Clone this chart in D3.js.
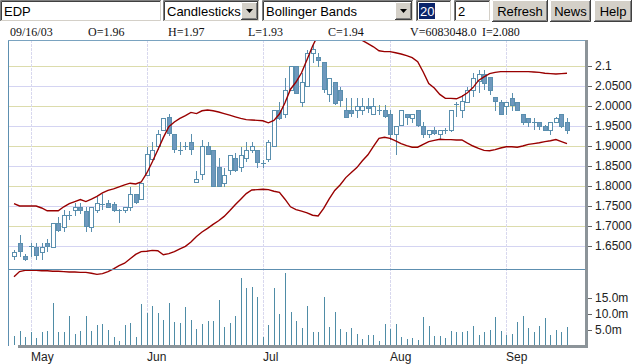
<!DOCTYPE html>
<html>
<head>
<meta charset="utf-8">
<script src="https://cdn.jsdelivr.net/npm/d3@7"></script>
<style>
body { margin: 0; background: #fff; }
</style>
</head>
<body>
<svg id="chart" width="632" height="364"></svg>
<script>
// daily bars 04/28/03 .. 09/16/03
var opens = [1.625,1.657,1.625,1.648,1.647,1.634,1.657,1.647,1.707,1.697,1.727,1.738,1.747,1.737,1.697,1.738,1.753,1.757,1.755,1.739,
  1.738,1.747,1.778,1.767,1.826,1.867,1.898,1.939,1.971,1.929,1.890,1.899,1.909,1.808,1.828,1.898,1.890,1.846,1.807,1.838,
  1.868,1.847,1.868,1.888,1.890,1.857,1.867,1.898,1.988,1.980,2.038,2.100,2.009,2.048,2.132,2.122,2.109,2.029,2.059,2.038,
  1.990,1.990,1.990,1.990,2.000,1.980,1.990,1.990,1.980,1.929,1.951,1.980,1.969,1.990,1.948,1.930,1.940,1.930,1.940,1.940,
  2.003,1.990,2.009,2.038,2.061,2.080,2.071,2.021,2.010,1.998,2.019,2.009,1.980,1.969,1.959,1.959,1.948,1.939,1.959,1.978,1.96];
var highs = [1.640,1.678,1.630,1.658,1.657,1.657,1.667,1.707,1.723,1.740,1.738,1.758,1.758,1.748,1.747,1.773,1.779,1.765,1.761,1.743,
  1.747,1.798,1.778,1.807,1.898,1.911,1.940,1.969,1.980,1.929,1.909,1.911,1.929,1.838,1.915,1.911,1.890,1.869,1.844,1.878,
  1.882,1.898,1.911,1.911,1.890,1.865,1.915,1.990,2.011,2.069,2.100,2.100,2.082,2.140,2.153,2.132,2.109,2.069,2.059,2.048,
  2.019,2.019,2.019,2.019,2.019,2.019,2.003,2.003,1.990,1.948,1.990,1.980,1.980,1.990,1.961,1.940,1.948,1.940,1.944,1.990,
  2.011,2.028,2.048,2.082,2.090,2.090,2.071,2.021,2.015,2.009,2.032,2.009,1.980,1.969,1.969,1.959,1.953,1.959,1.973,1.978,1.97];
var lows = [1.615,1.623,1.613,1.623,1.615,1.614,1.636,1.647,1.686,1.686,1.715,1.725,1.730,1.686,1.686,1.733,1.740,1.745,1.736,1.708,
  1.733,1.738,1.755,1.767,1.826,1.865,1.890,1.939,1.925,1.883,1.878,1.889,1.878,1.808,1.815,1.878,1.798,1.798,1.798,1.828,
  1.836,1.836,1.861,1.882,1.846,1.846,1.861,1.898,1.965,1.969,2.038,2.032,1.998,2.048,2.107,2.098,2.032,2.011,2.003,1.998,
  1.969,1.973,1.969,1.978,1.982,1.978,1.978,1.969,1.915,1.878,1.951,1.953,1.957,1.948,1.919,1.919,1.928,1.918,1.930,1.936,
  1.973,1.970,2.009,2.023,2.033,2.040,2.028,1.988,1.980,1.978,1.988,1.988,1.953,1.947,1.940,1.939,1.938,1.928,1.958,1.945,1.93];
var closes = [1.634,1.636,1.617,1.648,1.626,1.647,1.648,1.707,1.690,1.726,1.727,1.747,1.738,1.698,1.747,1.757,1.753,1.747,1.740,1.739,
  1.747,1.778,1.758,1.807,1.878,1.890,1.929,1.969,1.932,1.891,1.890,1.899,1.891,1.817,1.898,1.879,1.798,1.798,1.826,1.876,
  1.838,1.876,1.890,1.898,1.858,1.857,1.909,1.988,1.969,2.038,2.100,2.032,2.059,2.132,2.142,2.113,2.042,2.069,2.007,2.013,
  1.971,1.982,2.000,2.000,1.993,2.000,1.990,1.973,1.929,1.948,1.990,1.972,1.980,1.951,1.930,1.940,1.932,1.940,1.940,1.990,
  2.003,2.011,2.040,2.069,2.080,2.057,2.040,2.011,1.980,2.009,2.001,1.990,1.959,1.960,1.959,1.950,1.940,1.959,1.969,1.948,1.94];
// volume in millions
var volumes = [3.1,4.7,2.9,4.5,2.6,4.5,4.7,13.3,4.5,4.5,9.4,3.8,4.7,9.4,4.7,6.6,6.9,5.0,2.9,1.6,
  6.6,7.3,2.9,13.1,10.4,12.5,10.4,8.1,13.5,7.6,7.3,12.3,8.1,5.4,6.9,7.9,7.9,14.5,6.0,7.3,
  9.4,21.3,18.2,18.5,15.3,2.9,6.6,18.2,10.0,22.9,10.7,7.9,5.5,12.5,4.5,4.4,15.4,6.0,10.7,5.3,
  4.5,5.7,3.8,2.2,3.4,3.4,1.6,6.9,5.3,6.9,2.9,2.2,2.6,1.9,9.2,6.3,3.2,3.2,2.6,4.7,
  4.4,4.4,4.7,6.3,3.4,4.4,5.0,9.2,4.7,3.4,3.8,7.6,9.5,5.7,4.4,6.3,8.9,3.4,5.0,4.5,6.08];
// bollinger bands (20, 2)
var upperBand = [1.756,1.750,1.750,1.750,1.750,1.745,1.738,1.738,1.738,1.748,1.756,1.761,1.766,1.761,1.767,1.774,1.783,1.789,1.793,1.798,
  1.803,1.807,1.805,1.810,1.832,1.860,1.890,1.921,1.948,1.960,1.969,1.976,1.984,1.981,1.988,1.990,1.988,1.985,1.981,1.977,
  1.973,1.969,1.966,1.965,1.964,1.963,1.958,1.964,1.980,2.008,2.042,2.060,2.083,2.116,2.150,2.178,2.195,2.210,2.220,2.225,
  2.223,2.210,2.190,2.164,2.156,2.148,2.138,2.136,2.136,2.133,2.130,2.126,2.121,2.111,2.085,2.056,2.045,2.029,2.019,2.019,
  2.018,2.024,2.033,2.046,2.064,2.073,2.081,2.084,2.086,2.086,2.086,2.086,2.086,2.086,2.085,2.084,2.082,2.081,2.080,2.081,2.082];
var lowerBand = [1.573,1.586,1.589,1.589,1.589,1.588,1.588,1.587,1.587,1.586,1.585,1.585,1.584,1.584,1.582,1.579,1.581,1.586,1.593,1.601,
  1.607,1.618,1.629,1.636,1.637,1.639,1.638,1.628,1.631,1.636,1.643,1.649,1.660,1.674,1.685,1.694,1.704,1.713,1.724,1.738,
  1.753,1.767,1.781,1.790,1.791,1.792,1.791,1.787,1.784,1.767,1.748,1.741,1.737,1.733,1.727,1.725,1.744,1.768,1.789,1.803,
  1.821,1.834,1.846,1.863,1.878,1.899,1.919,1.922,1.919,1.913,1.906,1.901,1.897,1.897,1.904,1.911,1.914,1.917,1.916,1.916,
  1.915,1.915,1.907,1.900,1.894,1.889,1.888,1.891,1.895,1.898,1.898,1.897,1.900,1.904,1.906,1.908,1.911,1.913,1.916,1.911,1.906];

var monthStart = [3, 24, 45, 68, 89];
var monthNames = ["May", "Jun", "Jul", "Aug", "Sep"];
var priceTicks = [1.65, 1.70, 1.75, 1.80, 1.85, 1.90, 1.95, 2.00, 2.05, 2.1];
var priceLabels = ["1.6500", "1.7000", "1.7500", "1.8000", "1.8500", "1.9000", "1.9500", "2.0000", "2.0500", "2.1"];
var volTicks = [5, 10, 15];
var volLabels = ["5.0m", "10.0m", "15.0m"];
var infoItems = ["09/16/03", "O=1.96", "H=1.97", "L=1.93", "C=1.94", "V=6083048.0", "I=2.080"];

var SANS = "'Liberation Sans', Arial, sans-serif";
var SERIF = "'Liberation Serif', 'Times New Roman', serif";

var svg = d3.select("#chart");

// ---------- toolbar ----------
function sunken(x, y, w, h) {
  svg.append("rect").attr("x", x).attr("y", y).attr("width", w).attr("height", h).attr("fill", "#fff");
  svg.append("path").attr("d", "M" + (x + 0.5) + "," + (y + h) + "V" + (y + 0.5) + "H" + (x + w))
    .attr("stroke", "#808080").attr("fill", "none");
  svg.append("path").attr("d", "M" + (x + 1.5) + "," + (y + h - 1) + "V" + (y + 1.5) + "H" + (x + w - 1))
    .attr("stroke", "#404040").attr("fill", "none");
  svg.append("path").attr("d", "M" + x + "," + (y + h - 0.5) + "H" + (x + w - 0.5) + "V" + y)
    .attr("stroke", "#fff").attr("fill", "none");
  svg.append("path").attr("d", "M" + (x + 1) + "," + (y + h - 1.5) + "H" + (x + w - 1.5) + "V" + (y + 1))
    .attr("stroke", "#d4d0c8").attr("fill", "none");
}
function raised(x, y, w, h) {
  svg.append("rect").attr("x", x).attr("y", y).attr("width", w).attr("height", h).attr("fill", "#d4d0c8");
  svg.append("path").attr("d", "M" + (x + 0.5) + "," + (y + h - 1) + "V" + (y + 0.5) + "H" + (x + w - 1))
    .attr("stroke", "#fff").attr("fill", "none");
  svg.append("path").attr("d", "M" + x + "," + (y + h - 0.5) + "H" + (x + w - 0.5) + "V" + y)
    .attr("stroke", "#404040").attr("fill", "none");
  svg.append("path").attr("d", "M" + (x + 1) + "," + (y + h - 1.5) + "H" + (x + w - 1.5) + "V" + (y + 1))
    .attr("stroke", "#808080").attr("fill", "none");
}
function label(x, y, t, opt) {
  opt = opt || {};
  return svg.append("text").attr("x", x).attr("y", y).text(t)
    .style("font-family", opt.family || SANS)
    .attr("font-size", opt.size || 13).attr("fill", opt.fill || "#000")
    .attr("text-anchor", opt.anchor || "start");
}
function combo(x, w, t) {
  sunken(x, 0, w, 22);
  label(x + 4, 16, t);
  var bx = x + w - 19;
  raised(bx, 2, 17, 18);
  svg.append("path").attr("d", "M" + (bx + 5) + ",9H" + (bx + 12) + "L" + (bx + 8.5) + ",13Z").attr("fill", "#000");
}

sunken(0, 0, 162, 22);
label(4, 16, "EDP");
combo(163, 97, "Candlesticks");
combo(262, 152, "Bollinger Bands");
sunken(416, 0, 36, 22);
svg.append("rect").attr("x", 419).attr("y", 3).attr("width", 16).attr("height", 16).attr("fill", "#0a246a");
label(420, 16, "20", { fill: "#fff" });
sunken(454, 0, 37, 22);
label(458, 16, "2");
[["Refresh", 492, 56], ["News", 550, 41], ["Help", 594, 38]].forEach(function(b) {
  raised(b[1], 0, b[2], 22);
  label(b[1] + b[2] / 2, 16, b[0], { anchor: "middle" });
});

var infoX = [10, 88, 168, 248, 328, 410, 482];
infoItems.forEach(function(t, i) {
  label(infoX[i], 36, t, { family: SERIF, size: 12, fill: "#111" });
});

// ---------- scales ----------
var plotL = 8, plotR = 585, plotT = 40, plotMid = 269, plotB = 345;
var x = d3.scaleLinear().domain([0, 100]).range([14, 567]);
var y = d3.scaleLinear().domain([1.5925, 2.165]).range([plotMid, plotT]);
var yv = d3.scaleLinear().domain([0, 15]).range([346, 298]);

// grid
var g = svg.append("g").attr("shape-rendering", "crispEdges");
priceTicks.forEach(function(p, i) {
  var yy = Math.round(y(p)) + 0.5;
  g.append("line").attr("x1", plotL).attr("x2", plotR).attr("y1", yy).attr("y2", yy)
    .attr("stroke", Math.round(p * 100) % 10 == 0 ? "#dcdcac" : "#d4d4f2");
});
monthStart.forEach(function(m) {
  var xx = Math.round(x(m)) + 0.5;
  g.append("line").attr("x1", xx).attr("x2", xx).attr("y1", plotT).attr("y2", plotB)
    .attr("stroke", "#d8d8ee").attr("stroke-dasharray", "3,1");
});

// volume
svg.append("g").attr("shape-rendering", "crispEdges").selectAll("line").data(volumes).enter().append("line")
  .attr("x1", function(d, i) { return Math.round(x(i)) + 0.5; })
  .attr("x2", function(d, i) { return Math.round(x(i)) + 0.5; })
  .attr("y1", plotB).attr("y2", function(d) { return yv(d); })
  .attr("stroke", "#4f8ca6").attr("stroke-width", 1);

// candles
var candles = svg.append("g").attr("shape-rendering", "crispEdges").selectAll("g").data(closes).enter().append("g");
candles.append("line")
  .attr("x1", function(d, i) { return Math.round(x(i)) + 0.5; })
  .attr("x2", function(d, i) { return Math.round(x(i)) + 0.5; })
  .attr("y1", function(d, i) { return y(highs[i]); })
  .attr("y2", function(d, i) { return y(lows[i]); })
  .attr("stroke", "#5a8fae");
candles.append("rect")
  .attr("x", function(d, i) { return Math.round(x(i)) - 1.5; })
  .attr("width", 4)
  .attr("y", function(d, i) { return y(Math.max(opens[i], closes[i])); })
  .attr("height", function(d, i) { return Math.max(0.01, Math.abs(y(opens[i]) - y(closes[i]))); })
  .attr("fill", function(d, i) { return closes[i] < opens[i] ? "#6e98bd" : "#fff"; })
  .attr("stroke", "#5a8fae");

// bands
svg.append("clipPath").attr("id", "plotclip").append("rect")
  .attr("x", plotL).attr("y", plotT).attr("width", plotR - plotL).attr("height", plotB - plotT);
var bandLine = d3.line().x(function(d, i) { return x(i); }).y(function(d) { return y(d); });
[upperBand, lowerBand].forEach(function(b) {
  svg.append("path").attr("d", bandLine(b)).attr("clip-path", "url(#plotclip)")
    .attr("fill", "none").attr("stroke", "#990000").attr("stroke-width", 1.4);
});

// frame
var fr = svg.append("g").attr("shape-rendering", "crispEdges");
fr.append("line").attr("x1", plotL + 0.5).attr("x2", plotL + 0.5).attr("y1", plotT).attr("y2", plotB + 1).attr("stroke", "#5d8fb0");
fr.append("line").attr("x1", plotL).attr("x2", plotR).attr("y1", plotT + 0.5).attr("y2", plotT + 0.5).attr("stroke", "#7aa3c0");
fr.append("line").attr("x1", plotL).attr("x2", plotR).attr("y1", plotMid + 0.5).attr("y2", plotMid + 0.5).attr("stroke", "#5d8fb0");
fr.append("rect").attr("x", 18).attr("y", plotB).attr("width", plotR + 3 - 18).attr("height", 3).attr("fill", "#8c9499");
fr.append("rect").attr("x", plotR).attr("y", plotT).attr("width", 3).attr("height", plotB + 3 - plotT).attr("fill", "#8c9499");

// right axes
var priceAxis = d3.axisRight(y).tickValues(priceTicks).tickSize(4).tickPadding(3)
  .tickFormat(function(d, i) { return priceLabels[i]; });
var volAxis = d3.axisRight(yv).tickValues(volTicks).tickSize(4).tickPadding(3)
  .tickFormat(function(d, i) { return volLabels[i]; });
[priceAxis, volAxis].forEach(function(a) {
  var ax = svg.append("g").attr("transform", "translate(" + (plotR + 3) + ",0)").call(a);
  ax.select(".domain").remove();
  ax.selectAll("line").attr("stroke", "#666");
  ax.selectAll("text").attr("font-size", 12).attr("fill", "#222").style("font-family", SANS);
});

// month labels
monthNames.forEach(function(m, i) {
  label(Math.round(x(monthStart[i])), 361, m, { size: 12, fill: "#222" });
});
</script>
</body>
</html>
